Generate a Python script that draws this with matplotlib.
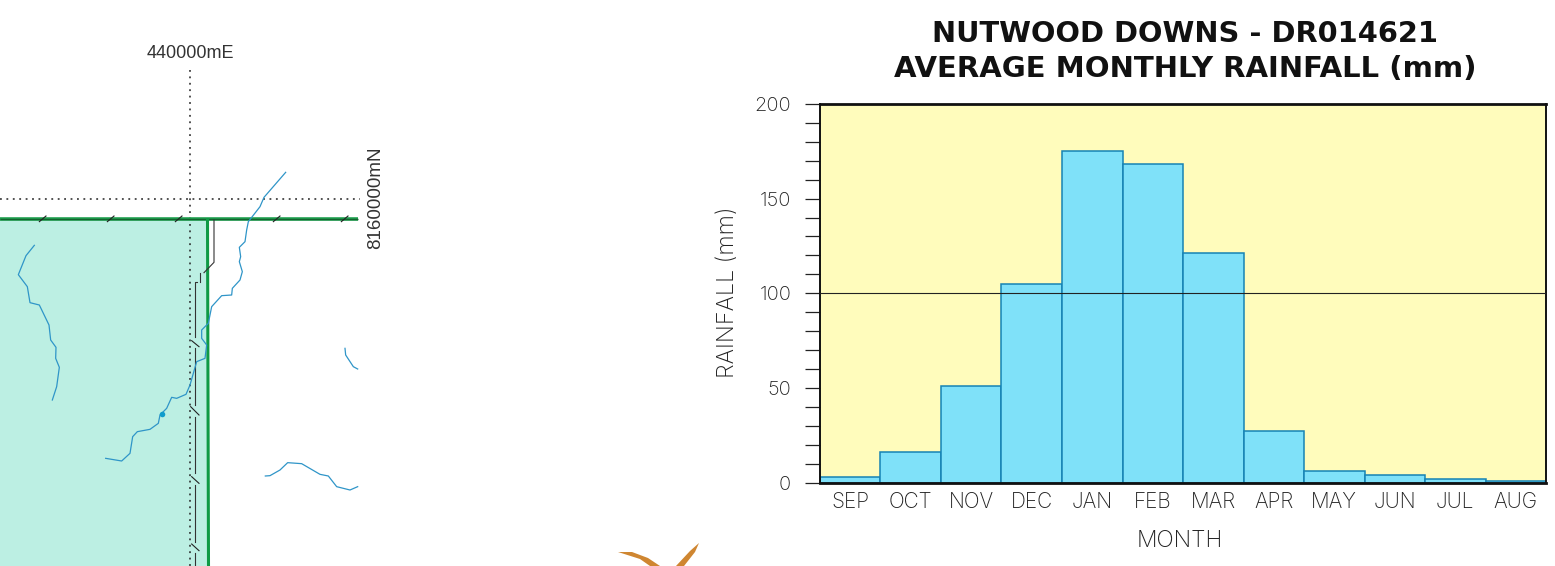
import matplotlib
matplotlib.use("Agg")
import matplotlib.pyplot as plt
from matplotlib.patches import Polygon
from matplotlib.ticker import MultipleLocator

W, H = 1555, 566
plt.rcParams['font.family'] = ['Inter', 'Liberation Sans', 'DejaVu Sans']

months = ['SEP', 'OCT', 'NOV', 'DEC', 'JAN', 'FEB', 'MAR', 'APR', 'MAY', 'JUN', 'JUL', 'AUG']
rainfall = [3, 16, 51, 105, 175, 168.5, 121.5, 27, 6, 4, 2, 1]
title_lines = 'NUTWOOD DOWNS - DR014621\nAVERAGE MONTHLY RAINFALL (mm)'

stream_a = [(103,316),(78,347),(55,404),(82,440),(90,488),(118,495),(147,555),(152,600),(168,622),
            (167,655),(178,682),(170,740),(157,780)]
stream_b = [(857,97),(792,172),(780,200),(745,245),(740,270),(735,305),(718,322),(722,350),(718,365),
            (727,395),(720,420),(697,445),(695,465),(665,467),(635,500),(625,550),(605,570),(605,595),
            (620,615),(615,655),(590,665),(570,735),(558,763),(530,775),(515,772),(500,805),(480,825),
            (475,850),(450,868),(412,875),(398,890),(390,940),(365,963),(317,955)]
stream_c = [(1035,625),(1037,645),(1060,680),(1073,687)]
stream_d = [(796,1008),(810,1007),(840,990),(863,968),(905,971),(960,1003),(985,1008),(1010,1040),
            (1050,1050),(1073,1040)]
road_a = [(642,240),(642,367),(612,398)]
road_b = [(600,400),(600,425)]
road_c = [(592,425),(586,425),(586,590)]
road_d = [(586,625),(586,795)]
road_e = [(586,830),(586,1000)]
road_f = [(586,1035),(586,1205)]
road_g = [(586,1240),(586,1278)]
fence_ticks_top = [(118,245,138,228),(322,245,342,228),(526,245,546,228),(820,245,840,228),(1024,245,1044,228)]
fence_ticks_side = [(575,602,597,620),(572,800,597,825),(575,1010,597,1030),(575,1212,597,1232)]
logo_a = [(618,552),(632,552),(648,558),(660,566),(650,566),(640,559)]
logo_b = [(699,543),(695,552),(684,566),(676,566),(690,551)]

fig = plt.figure(figsize=(W/100, H/100), dpi=100, facecolor='white')

m = fig.add_axes([0, 0, 1, 1], zorder=0)
m.set_xlim(0, W); m.set_ylim(H, 0); m.axis('off')

def z(pts):
    return [p[0]/3 for p in pts], [p[1]/3 + 140 for p in pts]

m.add_patch(Polygon([(0, 219), (207, 219), (207, H), (0, H)], closed=True, fc='#bcefe3', ec='none', zorder=1))
m.plot([190, 190], [70, H], color='#222222', lw=1.1, ls=(0, (1.2, 3)), zorder=2)
m.plot([0, 360], [198.5, 198.5], color='#222222', lw=1.1, ls=(0, (1.2, 3)), zorder=2)
m.plot([0, 358], [218.5, 218.5], color='#1fa04f', lw=2.6, solid_capstyle='butt', zorder=3)
m.plot([0, 358], [218.5, 218.5], color='#14632f', lw=1.0, solid_capstyle='butt', zorder=3)
m.plot([207.5, 208.5], [218, H], color='#0f9a45', lw=2.2, solid_capstyle='butt', zorder=3)
for r in (road_a, road_b, road_c, road_d, road_e, road_f, road_g):
    m.plot(*z(r), color='#333333', lw=0.8, zorder=4)
for x0, y0, x1, y1 in fence_ticks_top + fence_ticks_side:
    m.plot(*z([(x0, y0), (x1, y1)]), color='#222222', lw=0.8, zorder=4)
for s in (stream_a, stream_b, stream_c, stream_d):
    m.plot(*z(s), color='#2f95c8', lw=0.9, zorder=5)
m.plot(*z([(486, 821)]), 'o', color='#0f9ccc', ms=4, mec='none', zorder=6)
m.add_patch(Polygon(logo_a, closed=True, fc='#cf8631', ec='none'))
m.add_patch(Polygon(logo_b, closed=True, fc='#cf8631', ec='none'))
m.text(190.5, 53, '440000mE', fontsize=13, ha='center', va='center', color='#333333', family='Liberation Sans')
m.text(375.5, 198, '8160000mN', fontsize=13.5, ha='center', va='center', rotation=90, color='#333333', family='Liberation Sans')

L, R, T, B = 820, 1546, 104, 482.5
ax = fig.add_axes([L/W, 1 - B/H, (R-L)/W, (B-T)/H], zorder=2)
ax.set_facecolor('#fffcbc')
xs = range(len(months))
ax.bar(xs, rainfall, width=1.0, color='#7fe1f9', edgecolor='#1683b4', linewidth=1.1, zorder=2)
ax.axhline(100, color='#222222', lw=0.8, zorder=3)
ax.set_xlim(-0.5, 11.5)
ax.set_ylim(0, 200)
ax.set_xticks(list(xs))
ax.set_xticklabels(months, fontsize=15, color='#222222', fontweight='light')
ax.yaxis.set_major_locator(MultipleLocator(50))
ax.yaxis.set_minor_locator(MultipleLocator(10))
ax.tick_params(axis='x', length=0, pad=7)
ax.tick_params(axis='y', which='major', length=10.8, width=0.9, labelsize=14.5, labelcolor='#222222', pad=10, color='#222222')
ax.tick_params(axis='y', which='minor', length=10.8, width=0.9, color='#222222')
for lab in ax.get_yticklabels():
    lab.set_fontweight('light')
for s in ax.spines.values():
    s.set_color('#111111'); s.set_linewidth(1.4)
ax.spines['top'].set_linewidth(2)
ax.spines['bottom'].set_linewidth(2)
m.text(1180, 541, 'MONTH', fontsize=16.5, ha='center', va='center', color='#222222', fontweight='light')
m.text(728, 292, 'RAINFALL (mm)', fontsize=16.8, ha='center', va='center', rotation=90, color='#222222', fontweight='light')
t1, t2 = title_lines.split('\n')
m.text(1185, 34, t1, fontsize=20.8, fontweight='bold', ha='center', va='center', color='#111111', family='DejaVu Sans')
m.text(1185, 69, t2, fontsize=21, fontweight='bold', ha='center', va='center', color='#111111', family='DejaVu Sans')

fig.savefig('out.png', dpi=100)
